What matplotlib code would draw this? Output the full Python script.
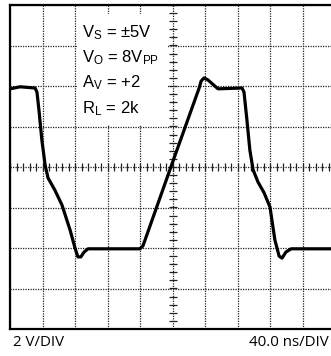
import numpy as np
import matplotlib
matplotlib.use("Agg")
import matplotlib.pyplot as plt
from matplotlib.ticker import MultipleLocator
from matplotlib.patches import Rectangle

plt.rcParams["mathtext.default"] = "regular"

# Data: time in ns, output in volts
time_ns = [0, 12.4, 30.8, 33.2, 35.6, 39.2, 43.2, 46.8, 55.2, 64, 74, 80, 83.6, 87.2,
           91.2, 96, 160, 163.6, 198, 232.8, 235.2, 238.8, 243.6, 256, 285.6, 288,
           291.6, 295.2, 299.2, 305.2, 312.8, 320, 326, 331.2, 334.8, 339.6, 346, 395.2]
volts = [3.86, 3.96, 3.9, 3.7, 2.82, 1.34, 0.1, -0.54, -1.14, -1.88, -3.12, -4.0,
         -4.44, -4.44, -4.2, -4.04, -4.04, -3.9, 0, 3.9, 4.24, 4.4, 4.3, 3.86, 3.9,
         3.7, 2.32, 0.84, -0.14, -0.74, -1.28, -1.98, -3.6, -4.4, -4.5, -4.2, -4.04, -4.04]

conditions = [r"V$_\mathregular{S}$ = ±5V", r"V$_\mathregular{O}$ = 8V$_\mathregular{PP}$",
              r"A$_\mathregular{V}$ = +2", r"R$_\mathregular{L}$ = 2k"]
vscale_label = "2 V/DIV"
tscale_label = "40.0 ns/DIV"

t_div, v_div = 40.0, 2.0
n_tdiv, n_vdiv = 10, 8

W, H = 331, 356
fig = plt.figure(figsize=(W / 100, H / 100), dpi=100)
ax = fig.add_axes([10 / W, 27 / H, 325 / W, 324 / H])
ax.set_xlim(0, t_div * n_tdiv)
ax.set_ylim(-v_div * n_vdiv / 2, v_div * n_vdiv / 2)

ax.xaxis.set_major_locator(MultipleLocator(t_div))
ax.yaxis.set_major_locator(MultipleLocator(v_div))
ax.grid(True, color="#222222", linestyle=(0, (1, 1)), linewidth=0.9)
ax.tick_params(left=False, bottom=False, labelleft=False, labelbottom=False)
for s in ax.spines.values():
    s.set_linewidth(1.6)
    s.set_color("black")

# center graticule with minor ticks
xmin_t = np.arange(0, t_div * n_tdiv + 0.1, t_div / 5)
ymin_t = np.arange(-v_div * n_vdiv / 2, v_div * n_vdiv / 2 + 0.01, v_div / 5)
ax.plot(xmin_t, np.zeros_like(xmin_t), linestyle="none", marker="|", markersize=6,
        markeredgewidth=0.9, color="#222222", clip_on=False, zorder=2)
ax.plot(np.full_like(ymin_t, t_div * n_tdiv / 2), ymin_t, linestyle="none", marker="_",
        markersize=6, markeredgewidth=0.9, color="#222222", zorder=2)

# white box behind condition text
ax.add_patch(Rectangle((0.205, 0.630), 0.278, 0.342, transform=ax.transAxes,
                       facecolor="white", edgecolor="none", zorder=3))
ys = [0.914, 0.836, 0.759, 0.679]
for txt, y in zip(conditions, ys):
    ax.text(0.222, y, txt, transform=ax.transAxes, fontsize=12,
            family="Liberation Sans", va="center", ha="left", zorder=4)

ax.plot(time_ns, volts, color="black", linewidth=2.3, zorder=5,
        solid_joinstyle="round", solid_capstyle="butt")

fig.text(13 / W, 1 - 343 / H, vscale_label, fontsize=10.8, family="Open Sans",
         va="center", ha="left")
fig.text(329 / W, 1 - 343 / H, tscale_label, fontsize=10.8, family="Open Sans",
         va="center", ha="right")

fig.savefig("out.png", dpi=100)
